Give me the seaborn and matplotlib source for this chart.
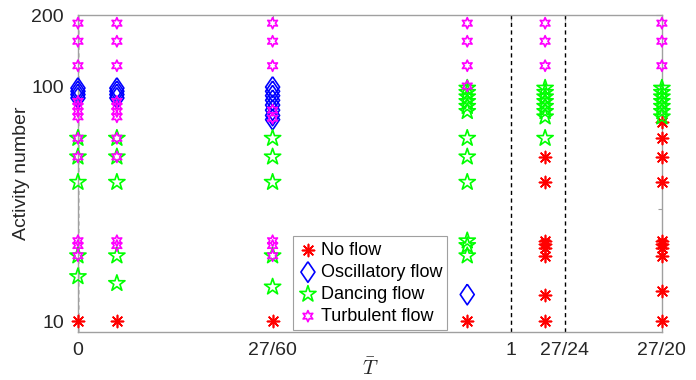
import matplotlib
matplotlib.use("Agg")
from matplotlib import pyplot as plt
import seaborn as sns
import pandas as pd

# columns of T-bar where runs were made
T_cols = [0, 27/300, 27/60, 27/30, 27/25, 27/20]
T_ticks = [0, 27/60, 1, 27/24, 27/20]
T_ticklabels = ["0", "27/60", "1", "27/24", "27/20"]
regime_bounds = [0, 1, 27/24]

# activity numbers per column, one list per regime
no_flow = [
    [10], [10], [10], [10],
    [10, 13, 19, 20.5, 21.3, 22, 39, 50],
    [10, 13.5, 19, 20.5, 21.3, 22, 39, 50, 60, 70],
]
oscillatory = [
    [98, 95, 92, 89],
    [98, 95, 92, 89],
    [99, 95, 91, 87, 83, 79, 75, 72],
    [13], [], [],
]
dancing = [
    [60, 50, 39, 19, 15.5],
    [60, 50, 39, 19, 14.5],
    [60, 50, 39, 19, 14],
    [98, 94, 90, 86, 82, 78, 60, 50, 39, 22, 21, 19],
    [98, 94, 90, 86, 82, 78, 74, 60],
    [98, 94, 90, 86, 82, 78, 74],
]
turbulent = [
    [185, 155, 122, 86, 82, 78, 74, 60, 50, 22, 21, 19],
    [185, 155, 122, 86, 82, 78, 74, 60, 50, 22, 21],
    [185, 155, 122, 79, 73, 22, 21, 19],
    [185, 155, 122, 100],
    [185, 155, 122],
    [185, 155, 122],
]

# MATLAB-like diamond, a bit taller than wide
diamond = [(0, 1), (0.68, 0), (0, -1), (-0.68, 0), (0, 1)]

series = [
    ("No flow", no_flow, "#ff0000", (8, 2, 0), 75),
    ("Oscillatory flow", oscillatory, "#0000ff", diamond, 220),
    ("Dancing flow", dancing, "#00ff00", "*", 150),
    ("Turbulent flow", turbulent, "#ff00ff", (6, 1, 0), 65),
]


def to_frame(cols):
    rows = []
    for t, vals in zip(T_cols, cols):
        for v in vals:
            rows.append({"T": t, "N": v})
    return pd.DataFrame(rows, columns=["T", "N"])


sns.set_style("white")
plt.rcParams["font.family"] = ["Liberation Sans", "DejaVu Sans"]
plt.rcParams["mathtext.fontset"] = "cm"
txt = "#262626"
frame = "#a0a0a0"

fig = plt.figure(figsize=(6.96, 3.8), dpi=100)
ax = fig.add_axes([0.112, 0.126, 0.839, 0.834])

for xv in regime_bounds:
    ax.axvline(xv, color="k", ls=(0, (3, 2.5)), lw=1.0, zorder=1)

for label, cols, color, marker, size in series:
    df = to_frame(cols)
    if label == "No flow":
        # line-art marker: colour goes to the strokes
        sns.scatterplot(data=df, x="T", y="N", ax=ax, marker=marker, s=size,
                        color=color, linewidth=1.2, label=label,
                        clip_on=False, zorder=3)
    else:
        sns.scatterplot(data=df, x="T", y="N", ax=ax, marker=marker, s=size,
                        color=color, edgecolor=color, facecolor="none",
                        linewidth=1.2, label=label, clip_on=False, zorder=3)

ax.set_yscale("log")
ax.set_xlim(0, 27/20)
ax.set_ylim(9, 200)
ax.set_xticks(T_ticks)
ax.set_xticklabels(T_ticklabels)
ax.set_yticks([10, 100, 200])
ax.set_yticklabels(["10", "100", "200"])
ax.set_yticks([30], minor=True)
ax.set_yticklabels([""], minor=True)
ax.tick_params(which="both", direction="in", top=True, right=True,
               color=frame, labelsize=14, labelcolor=txt, length=4, width=0.8)
ax.tick_params(axis="x", pad=7)
ax.tick_params(axis="y", pad=10)
ax.tick_params(which="minor", length=3)
for sp in ax.spines.values():
    sp.set_color(frame)
    sp.set_linewidth(1.0)

ax.set_xlabel(r"$\bar{T}$", fontsize=15, color=txt, labelpad=-1)
ax.set_ylabel("Activity number", fontsize=14, color=txt, labelpad=1)

leg = ax.legend(loc="lower left", bbox_to_anchor=(0.366, 0.0), fontsize=13,
                frameon=True, fancybox=False, framealpha=1, edgecolor=frame,
                handlelength=1.0, handletextpad=0.2, labelspacing=0.28,
                borderpad=0.3, borderaxespad=0.1)
leg.get_frame().set_linewidth(0.8)
for t in leg.get_texts():
    t.set_color("black")

fig.savefig("out.png", dpi=100)
